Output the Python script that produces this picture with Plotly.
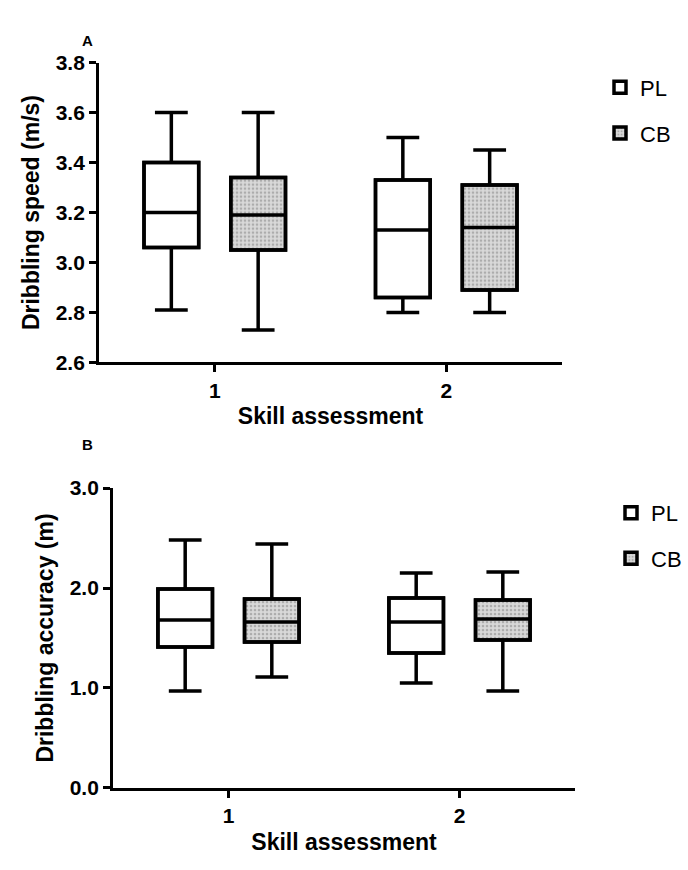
import plotly.graph_objects as go

# ---------------- data ----------------
assessments = [1, 2]
groups = ["PL", "CB"]

# Panel A: Dribbling speed (m/s)
speed_PL_min = [2.81, 2.80]
speed_PL_q1 = [3.06, 2.86]
speed_PL_med = [3.20, 3.13]
speed_PL_q3 = [3.40, 3.33]
speed_PL_max = [3.60, 3.50]

speed_CB_min = [2.73, 2.80]
speed_CB_q1 = [3.05, 2.89]
speed_CB_med = [3.19, 3.14]
speed_CB_q3 = [3.34, 3.31]
speed_CB_max = [3.60, 3.45]

# Panel B: Dribbling accuracy (m)
acc_PL_min = [0.97, 1.05]
acc_PL_q1 = [1.41, 1.35]
acc_PL_med = [1.68, 1.66]
acc_PL_q3 = [1.99, 1.90]
acc_PL_max = [2.48, 2.15]

acc_CB_min = [1.11, 0.97]
acc_CB_q1 = [1.46, 1.48]
acc_CB_med = [1.66, 1.69]
acc_CB_q3 = [1.89, 1.88]
acc_CB_max = [2.44, 2.16]

speed_ticks = [2.6, 2.8, 3.0, 3.2, 3.4, 3.6, 3.8]
acc_ticks = [0.0, 1.0, 2.0, 3.0]

# ---------------- styles ----------------
FONT = "Liberation Sans, Arial, sans-serif"
LW = 3.5
PL_FILL = "white"
CB_FILL = "#d9d9d9"
CB_DOT = "#808080"

fig = go.Figure()

panels = [
    dict(name="A", x="x", y="y", legend="legend",
         PL=(speed_PL_min, speed_PL_q1, speed_PL_med, speed_PL_q3, speed_PL_max),
         CB=(speed_CB_min, speed_CB_q1, speed_CB_med, speed_CB_q3, speed_CB_max)),
    dict(name="B", x="x2", y="y2", legend="legend2",
         PL=(acc_PL_min, acc_PL_q1, acc_PL_med, acc_PL_q3, acc_PL_max),
         CB=(acc_CB_min, acc_CB_q1, acc_CB_med, acc_CB_q3, acc_CB_max)),
]

# bars (fill + pattern + legend), drawn under boxes
for p in panels:
    for g in groups:
        mn, q1, md, q3, mx = p[g]
        pattern = dict(shape=".", fgcolor=CB_DOT, bgcolor=CB_FILL, size=4,
                       solidity=0.35) if g == "CB" else dict(shape="")
        fig.add_trace(go.Bar(
            x=assessments, base=q1, y=[b - a for a, b in zip(q1, q3)],
            name=g, xaxis=p["x"], yaxis=p["y"], legend=p["legend"],
            legendgroup=g + p["legend"],
            offsetgroup=g, alignmentgroup="bar" + p["name"],
            marker=dict(color=PL_FILL if g == "PL" else CB_FILL,
                        line=dict(color="black", width=LW), pattern=pattern),
            hoverinfo="skip",
        ))

# boxes (outline, median, whiskers)
for p in panels:
    for g in groups:
        mn, q1, md, q3, mx = p[g]
        fig.add_trace(go.Box(
            x=assessments, q1=q1, median=md, q3=q3,
            lowerfence=mn, upperfence=mx,
            name=g, xaxis=p["x"], yaxis=p["y"], showlegend=False,
            offsetgroup=g, alignmentgroup="box" + p["name"],
            boxpoints=False, whiskerwidth=0.6,
            fillcolor="rgba(0,0,0,0)",
            line=dict(color="black", width=LW),
        ))

W, H = 688, 870
def px_x(v):
    return v / W
def px_y(v):
    return 1 - v / H

axis_common = dict(
    showline=True, linecolor="black", linewidth=2.8,
    ticks="outside", ticklen=7, tickwidth=2.8, tickcolor="black",
    showgrid=False, zeroline=False,
    tickfont=dict(family=FONT, size=21, color="black", weight="bold"),
)

title_font = dict(family=FONT, size=23, color="black", weight="bold")

fig.update_layout(
    width=W, height=H,
    margin=dict(l=0, r=0, t=0, b=0),
    paper_bgcolor="white", plot_bgcolor="white",
    boxmode="group", boxgap=0.25, boxgroupgap=0.37,
    barmode="group", bargap=0.25, bargroupgap=0.37,
    xaxis=dict(axis_common, domain=[px_x(99), px_x(562)], range=[0.5, 2.5],
               tickvals=assessments, anchor="y",
               title=dict(text="Skill assessment", font=title_font, standoff=8)),
    yaxis=dict(axis_common, domain=[px_y(360), px_y(52)], range=[2.6, 3.8],
               tickvals=speed_ticks, tickformat=".1f", anchor="x",
               title=dict(text="Dribbling speed (m/s)", font=title_font, standoff=10)),
    xaxis2=dict(axis_common, domain=[px_x(113), px_x(575)], range=[0.5, 2.5],
                tickvals=assessments, anchor="y2",
                title=dict(text="Skill assessment", font=title_font, standoff=8)),
    yaxis2=dict(axis_common, domain=[px_y(797), px_y(489)], range=[0, 3],
                tickvals=acc_ticks, tickformat=".1f", anchor="x2",
                title=dict(text="Dribbling accuracy (m)", font=title_font, standoff=10)),
    legend=dict(x=px_x(600), y=px_y(56), xanchor="left", yanchor="top",
                font=dict(family=FONT, size=22, color="black"),
                traceorder="grouped", tracegroupgap=14, bgcolor="rgba(0,0,0,0)"),
    legend2=dict(x=px_x(611), y=px_y(493), xanchor="left", yanchor="top",
                 font=dict(family=FONT, size=22, color="black"),
                 traceorder="grouped", tracegroupgap=14, bgcolor="rgba(0,0,0,0)"),
    annotations=[
        dict(text="A", x=px_x(80), y=px_y(19), xref="paper", yref="paper",
             showarrow=False, font=dict(family=FONT, size=15, color="black", weight="bold")),
        dict(text="B", x=px_x(80), y=px_y(444), xref="paper", yref="paper",
             showarrow=False, font=dict(family=FONT, size=15, color="black", weight="bold")),
    ],
)

fig.write_html("out.html")
